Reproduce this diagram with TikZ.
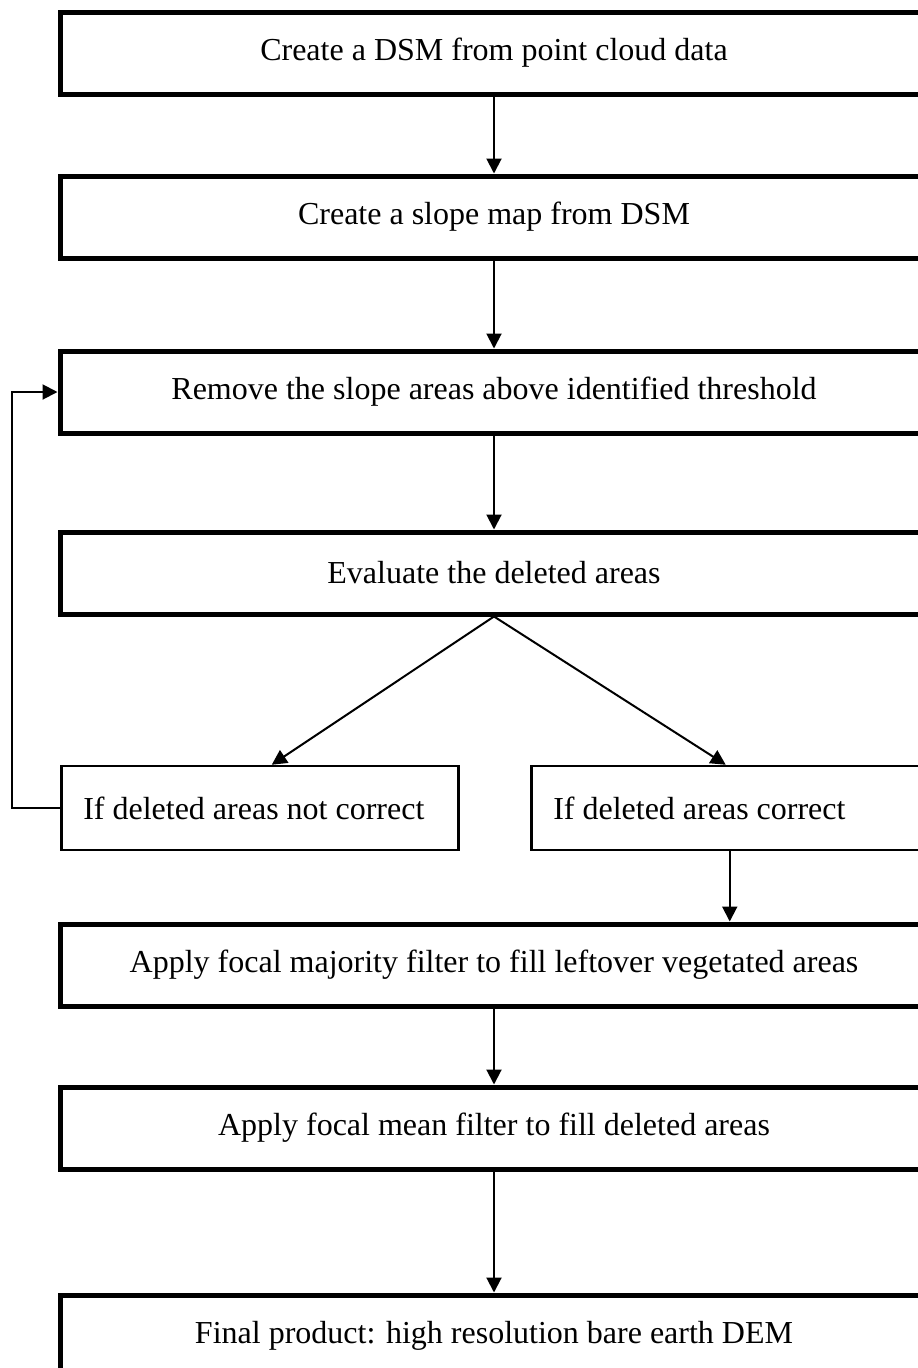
\documentclass[tikz,border=0pt]{standalone}
\usepackage{fontspec}
\setmainfont{Liberation Serif}
\usetikzlibrary{arrows.meta,calc,positioning}

\begin{document}
\begin{tikzpicture}[x=1pt,y=-1pt,
  every node/.style={draw,align=center,font=\fontsize{32}{38}\selectfont},
  stepbox/.style={line width=5pt,minimum width=868pt,minimum height=82pt,inner sep=0pt},
  choicebox/.style={line width=2.5pt,text width=353pt,inner xsep=22pt,minimum height=84pt,align=flush left,anchor=west},
  flow/.style={line width=2pt,-{Triangle[length=15pt,width=15pt]}}]
\clip (0,0) rectangle (918,1368);
\node [stepbox] (CreateDSM) at (494,53) {Create a DSM from point cloud data};
\node [stepbox] (SlopeMap) at (494,217) {Create a slope map from DSM};
\node [stepbox] (RemoveSlope) at (494,392) {Remove the slope areas above identified threshold};
\node [stepbox] (Evaluate) at (494,573) {Evaluate the deleted areas};
\node [choicebox] (NotCorrect) at (60,808) {If deleted areas not correct};
\node [choicebox] (Correct) at (530,808) {If deleted areas correct};
\node [stepbox] (FocalMajority) at (494,965) {Apply focal majority filter to fill leftover vegetated areas};
\node [stepbox] (FocalMean) at (494,1128) {Apply focal mean filter to fill deleted areas};
\node [stepbox] (FinalDEM) at (494,1336) {Final product: high resolution bare earth DEM};
\draw [flow] (CreateDSM) -- (SlopeMap);
\draw [flow] (SlopeMap) -- (RemoveSlope);
\draw [flow] (RemoveSlope) -- (Evaluate);
\draw [flow] (Evaluate.south) -- ($(NotCorrect.north)+(12,0)$);
\draw [flow] (Evaluate.south) -- ($(Correct.north)+(-4,0)$);
\draw [flow] (NotCorrect.west) -- ++(-48,0) |- (RemoveSlope.west);
\draw [flow] (Correct.south) -- (Correct.south |- FocalMajority.north);
\draw [flow] (FocalMajority) -- (FocalMean);
\draw [flow] (FocalMean) -- (FinalDEM);
\end{tikzpicture}
\end{document}
